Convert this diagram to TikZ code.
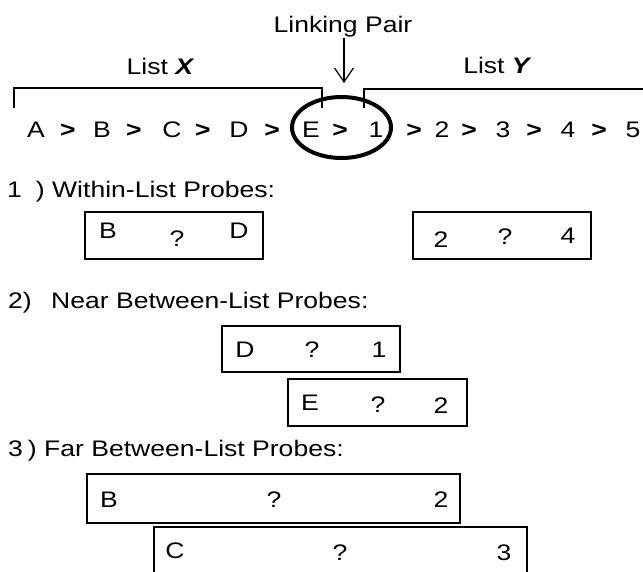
\documentclass[tikz,border=0pt]{standalone}
\usepackage{fontspec}
\setmainfont{Liberation Sans}[FakeStretch=1.18]
\usetikzlibrary{arrows.meta,shapes.geometric}
\begin{document}
\begin{tikzpicture}[x=1pt,y=-1pt,
  txt/.style={font=\fontsize{22.5}{27}\selectfont, inner sep=0pt, anchor=base},
  lbl/.style={txt, anchor=base west},
  gt/.style={txt, font=\fontsize{22.5}{27}\selectfont\bfseries},
  probe/.style={draw, line width=1.8pt, rectangle, inner sep=0pt, minimum width=178pt, minimum height=47pt},
  wideprobe/.style={probe, minimum width=373pt},
  brk/.style={line width=1.8pt},
  ]
\useasboundingbox (0,0) rectangle (643,571);

% top labels
\node[txt] (lp) at (343,32) {Linking Pair};
\node[txt] (lx) at (160.5,74) {List \textbf{\textit{X}}};
\node[txt] (ly) at (497.5,73) {List \textbf{\textit{Y}}};

% brackets
\draw[brk] (14,108) -- (14,88) -- (322,88) -- (322,108);
\draw[brk] (364,108) -- (364,89) -- (643,89);

% linking pair ellipse
\node[draw, ellipse, line width=4pt, minimum width=99pt, minimum height=61pt, inner sep=0pt] (pair) at (341.5,127.5) {};

% arrow
\coordinate (arrtop) at (344,38);
\coordinate (arrtip) at (344,83);
\draw[line width=1.2pt, -{Straight Barb[length=14pt,width=19pt]}] (arrtop) -- (arrtip);

% sequence
\foreach \t/\x/\n in {A/36/sA, B/102/sB, C/172/sC, D/239/sD, E/311/sE, 1/376/s1, 2/442/s2, 3/503/s3, 4/568/s4, 5/633/s5}
  \node[txt] (\n) at (\x,137) {\t};
\foreach \x/\n in {68/g1, 134/g2, 203/g3, 272/g4, 340/g5, 414/g6, 469/g7, 534/g8, 599/g9}
  \node[gt] (\n) at (\x,137) {>};

% section 1
\node[lbl] (h1) at (7,197) {1\hspace{14pt})\ Within-List Probes:};
\node[probe] (b1) at (174,235.5) {};
\node[txt] (b1a) at (108,238) {B};
\node[txt] (b1q) at (177,246) {?};
\node[txt] (b1b) at (239,238) {D};
\node[probe] (b2) at (502,235.5) {};
\node[txt] (b2a) at (441,247) {2};
\node[txt] (b2q) at (505,244) {?};
\node[txt] (b2b) at (568,243) {4};

% section 2
\node[lbl] (h2) at (8,308) {2)\hspace{12pt} Near Between-List Probes:};
\node[probe, minimum height=46pt] (b3) at (311,349) {};
\node[txt] (b3a) at (245,357) {D};
\node[txt] (b3q) at (312,357) {?};
\node[txt] (b3b) at (379,357) {1};
\node[probe, minimum width=179pt] (b4) at (377.5,402.5) {};
\node[txt] (b4a) at (310,410) {E};
\node[txt] (b4q) at (378,412) {?};
\node[txt] (b4b) at (441,413) {2};

% section 3
\node[lbl] (h3) at (8,456) {3\hspace{5pt}) Far Between-List Probes:};
\node[wideprobe, minimum height=49pt] (b5) at (273.5,498.5) {};
\node[txt] (b5a) at (109,507) {B};
\node[txt] (b5q) at (274,507) {?};
\node[txt] (b5b) at (441,507) {2};
\node[rectangle, inner sep=0pt, minimum width=373pt, minimum height=45pt] (b6) at (340.5,549.5) {};
\draw[line width=1.8pt] (b6.south west) -- (b6.north west) -- (b6.north east) -- (b6.south east);
\node[txt] (b6a) at (175,558) {C};
\node[txt] (b6q) at (340,560) {?};
\node[txt] (b6b) at (504,560) {3};
\end{tikzpicture}
\end{document}
